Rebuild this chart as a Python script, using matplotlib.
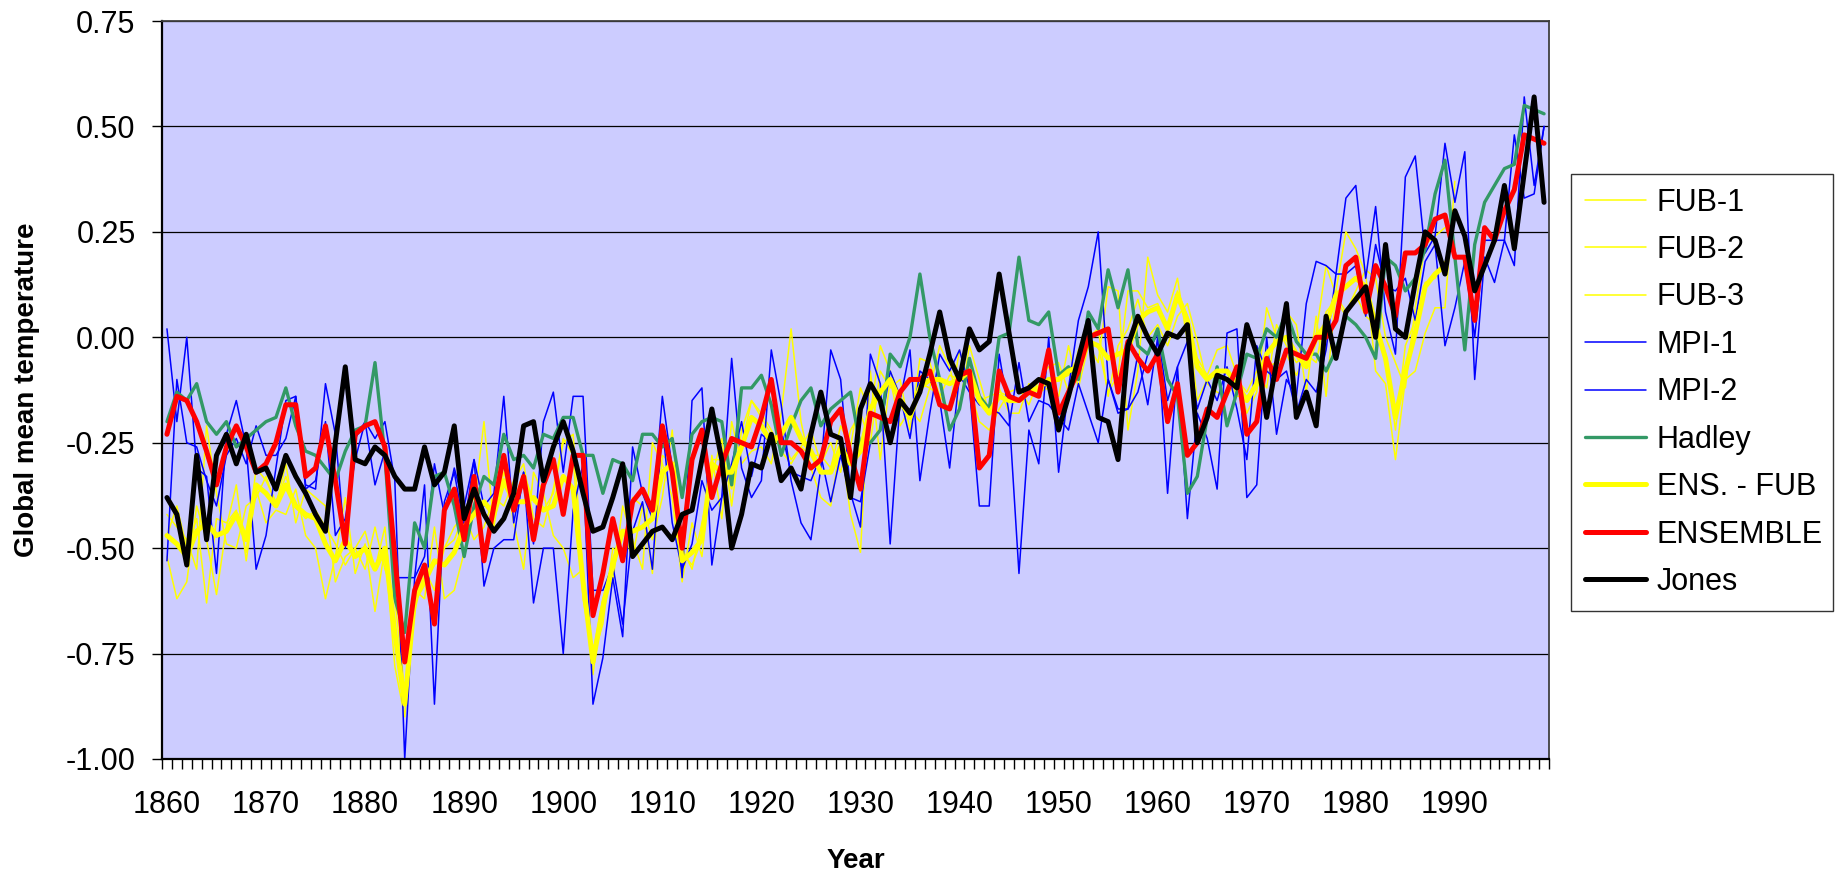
import numpy as np
import matplotlib
matplotlib.use("Agg")
import matplotlib.pyplot as plt
from matplotlib.ticker import FuncFormatter

# ---- data: global mean temperature anomalies, one value per year from 1860 ----
FIRST_YEAR = 1860

fub1 = [
    -0.52, -0.62, -0.58, -0.40, -0.48, -0.61, -0.45, -0.35, -0.53, -0.36,
    -0.44, -0.41, -0.42, -0.36, -0.47, -0.50, -0.62, -0.52, -0.38, -0.56,
    -0.49, -0.65, -0.50, -0.78, -0.90, -0.60, -0.62, -0.45, -0.62, -0.60,
    -0.51, -0.40, -0.20, -0.45, -0.30, -0.44, -0.55, -0.32, -0.37, -0.47,
    -0.50, -0.57, -0.55, -0.80, -0.62, -0.58, -0.40, -0.48, -0.55, -0.25,
    -0.30, -0.38, -0.58, -0.44, -0.52, -0.28, -0.43, -0.20, -0.30, -0.27,
    -0.26, -0.30, -0.18, 0.02, -0.20, -0.31, -0.38, -0.40, -0.25, -0.42,
    -0.51, -0.08, -0.29, -0.10, -0.21, -0.17, -0.20, -0.12, -0.02, -0.07,
    -0.17, -0.02, -0.10, -0.18, -0.12, -0.18, -0.18, -0.11, -0.13, -0.11,
    -0.14, -0.02, -0.12, -0.02, -0.06, 0.12, 0.11, -0.22, -0.08, 0.19,
    0.10, 0.06, 0.14, -0.01, -0.05, -0.09, -0.03, -0.02, -0.09, -0.18,
    -0.13, 0.07, 0.00, 0.06, 0.03, -0.13, 0.05, -0.14, 0.11, 0.25,
    0.21, 0.15, -0.08, -0.11, -0.29, -0.10, -0.08, 0.01, 0.07, 0.07,
    0.37,
]

fub2 = [
    -0.42, -0.45, -0.48, -0.55, -0.21, -0.37, -0.49, -0.50, -0.40, -0.38,
    -0.33, -0.40, -0.30, -0.44, -0.36, -0.38, -0.40, -0.58, -0.52, -0.50,
    -0.55, -0.45, -0.55, -0.62, -0.84, -0.65, -0.55, -0.60, -0.50, -0.45,
    -0.42, -0.48, -0.45, -0.38, -0.40, -0.34, -0.30, -0.43, -0.45, -0.36,
    -0.24, -0.28, -0.62, -0.76, -0.68, -0.50, -0.52, -0.38, -0.40, -0.48,
    -0.38, -0.22, -0.50, -0.55, -0.44, -0.33, -0.24, -0.40, -0.22, -0.15,
    -0.18, -0.22, -0.27, -0.30, -0.26, -0.22, -0.30, -0.25, -0.32, -0.22,
    -0.18, -0.25, -0.08, -0.12, -0.10, -0.22, -0.05, -0.06, -0.14, -0.17,
    -0.03, -0.12, -0.20, -0.22, -0.17, -0.13, -0.12, -0.16, -0.10, -0.07,
    -0.06, -0.13, -0.03, 0.00, 0.02, -0.14, -0.02, 0.02, 0.09, 0.00,
    0.03, -0.02, 0.05, 0.08, -0.01, -0.11, -0.13, -0.14, -0.10, -0.13,
    -0.08, -0.12, 0.03, -0.02, -0.06, -0.04, -0.06, 0.06, 0.09, 0.05,
    0.10, 0.05, 0.03, -0.04, -0.22, -0.02, 0.04, 0.13, 0.14, 0.18,
]

fub3 = [
    -0.47, -0.40, -0.50, -0.43, -0.63, -0.43, -0.44, -0.41, -0.51, -0.31,
    -0.34, -0.39, -0.33, -0.40, -0.43, -0.41, -0.45, -0.49, -0.54, -0.50,
    -0.46, -0.55, -0.45, -0.70, -0.87, -0.61, -0.57, -0.54, -0.50, -0.48,
    -0.42, -0.38, -0.52, -0.43, -0.32, -0.39, -0.32, -0.39, -0.41, -0.37,
    -0.25, -0.23, -0.57, -0.75, -0.62, -0.54, -0.46, -0.52, -0.40, -0.56,
    -0.28, -0.30, -0.51, -0.54, -0.48, -0.29, -0.29, -0.36, -0.26, -0.15,
    -0.19, -0.23, -0.24, -0.29, -0.26, -0.28, -0.28, -0.31, -0.21, -0.26,
    -0.12, -0.18, -0.02, -0.08, -0.14, -0.18, -0.11, -0.12, -0.14, -0.09,
    -0.10, -0.10, -0.15, -0.14, -0.13, -0.14, -0.15, -0.12, -0.13, -0.12,
    -0.10, -0.09, -0.06, -0.01, -0.02, -0.13, -0.09, 0.11, 0.11, 0.07,
    0.08, 0.02, 0.11, 0.05, -0.15, -0.10, -0.08, -0.08, -0.14, -0.14,
    -0.12, -0.07, -0.06, -0.04, -0.09, -0.04, 0.01, 0.17, 0.10, 0.06,
    0.11, 0.16, 0.14, 0.00, -0.06, -0.12, 0.07, 0.22, 0.24, 0.26,
]

mpi1 = [
    0.02, -0.20, 0.00, -0.31, -0.33, -0.56, -0.23, -0.15, -0.26, -0.55,
    -0.47, -0.31, -0.15, -0.14, -0.35, -0.36, -0.11, -0.23, -0.50, -0.24,
    -0.20, -0.24, -0.20, -0.34, -1.00, -0.57, -0.35, -0.87, -0.39, -0.32,
    -0.45, -0.29, -0.59, -0.50, -0.48, -0.48, -0.32, -0.63, -0.50, -0.50,
    -0.75, -0.41, -0.30, -0.87, -0.76, -0.57, -0.71, -0.26, -0.37, -0.43,
    -0.14, -0.31, -0.57, -0.15, -0.12, -0.54, -0.38, -0.05, -0.31, -0.38,
    -0.34, -0.03, -0.16, -0.34, -0.44, -0.48, -0.31, -0.03, -0.10, -0.37,
    -0.45, -0.04, -0.11, -0.49, -0.15, -0.03, -0.34, -0.18, -0.04, -0.08,
    -0.03, -0.12, -0.40, -0.40, -0.04, -0.18, -0.56, -0.22, -0.30, 0.00,
    -0.32, -0.12, 0.04, 0.12, 0.25, -0.10, -0.17, -0.17, -0.04, -0.16,
    0.00, -0.37, -0.07, -0.43, -0.18, -0.24, -0.36, 0.01, 0.02, -0.38,
    -0.35, 0.00, -0.23, -0.10, -0.14, 0.08, 0.18, 0.17, 0.15, 0.33,
    0.36, 0.14, 0.31, 0.06, -0.04, 0.38, 0.43, 0.20, 0.24, 0.46,
    0.32, 0.44, -0.10, 0.19, 0.13, 0.23, 0.17, 0.57, 0.36, 0.50,
]

mpi2 = [
    -0.53, -0.10, -0.25, -0.26, -0.34, -0.40, -0.28, -0.24, -0.30, -0.21,
    -0.28, -0.28, -0.24, -0.14, -0.36, -0.34, -0.20, -0.47, -0.43, -0.29,
    -0.20, -0.35, -0.27, -0.57, -0.57, -0.57, -0.52, -0.30, -0.42, -0.31,
    -0.40, -0.29, -0.40, -0.37, -0.14, -0.44, -0.32, -0.49, -0.20, -0.13,
    -0.32, -0.14, -0.14, -0.60, -0.60, -0.54, -0.68, -0.46, -0.39, -0.55,
    -0.21, -0.44, -0.55, -0.49, -0.34, -0.41, -0.38, -0.30, -0.20, -0.33,
    -0.23, -0.25, -0.22, -0.32, -0.33, -0.34, -0.28, -0.39, -0.28, -0.38,
    -0.39, -0.25, -0.22, -0.08, -0.14, -0.24, -0.08, -0.10, -0.15, -0.31,
    -0.09, -0.13, -0.16, -0.17, -0.18, -0.21, -0.06, -0.20, -0.15, -0.16,
    -0.19, -0.22, -0.11, -0.18, -0.25, -0.10, -0.18, -0.17, -0.13, -0.04,
    0.01, -0.15, -0.07, -0.01, -0.17, -0.10, -0.15, -0.07, -0.17, -0.29,
    -0.02, -0.08, -0.10, -0.08, -0.18, -0.10, -0.13, -0.03, 0.15, 0.15,
    0.17, 0.05, 0.22, 0.12, 0.11, 0.14, 0.04, 0.18, 0.22, -0.02,
    0.07, 0.18, 0.00, 0.23, 0.23, 0.23, 0.48, 0.33, 0.34, 0.50,
]

hadley = [
    -0.20, -0.13, -0.15, -0.11, -0.20, -0.23, -0.20, -0.26, -0.24, -0.22,
    -0.20, -0.19, -0.12, -0.21, -0.27, -0.28, -0.31, -0.34, -0.27, -0.22,
    -0.21, -0.06, -0.28, -0.62, -0.70, -0.44, -0.50, -0.33, -0.32, -0.40,
    -0.52, -0.40, -0.33, -0.35, -0.23, -0.29, -0.28, -0.31, -0.23, -0.24,
    -0.19, -0.19, -0.28, -0.28, -0.37, -0.29, -0.30, -0.34, -0.23, -0.23,
    -0.26, -0.24, -0.38, -0.23, -0.20, -0.19, -0.20, -0.35, -0.12, -0.12,
    -0.09, -0.16, -0.28, -0.21, -0.15, -0.12, -0.21, -0.17, -0.15, -0.13,
    -0.26, -0.25, -0.22, -0.04, -0.07, 0.00, 0.15, 0.00, -0.10, -0.22,
    -0.17, -0.05, -0.14, -0.17, 0.00, 0.01, 0.19, 0.04, 0.03, 0.06,
    -0.09, -0.07, -0.10, 0.06, 0.02, 0.16, 0.07, 0.16, -0.02, -0.04,
    0.02, -0.10, -0.14, -0.37, -0.33, -0.19, -0.07, -0.21, -0.13, -0.04,
    -0.05, 0.02, 0.00, 0.06, -0.01, -0.04, -0.04, -0.08, -0.03, 0.05,
    0.03, 0.00, -0.05, 0.19, 0.17, 0.11, 0.14, 0.21, 0.34, 0.42,
    0.19, -0.03, 0.22, 0.32, 0.36, 0.40, 0.41, 0.55, 0.54, 0.53,
]

ens_fub = [
    -0.47, -0.49, -0.52, -0.46, -0.44, -0.47, -0.46, -0.42, -0.48, -0.35,
    -0.37, -0.40, -0.35, -0.40, -0.42, -0.43, -0.49, -0.53, -0.48, -0.52,
    -0.50, -0.55, -0.50, -0.70, -0.87, -0.62, -0.58, -0.53, -0.54, -0.51,
    -0.45, -0.42, -0.39, -0.42, -0.34, -0.39, -0.39, -0.38, -0.41, -0.40,
    -0.33, -0.36, -0.58, -0.77, -0.64, -0.54, -0.46, -0.46, -0.45, -0.43,
    -0.32, -0.30, -0.53, -0.51, -0.48, -0.30, -0.32, -0.32, -0.26, -0.19,
    -0.21, -0.25, -0.23, -0.19, -0.24, -0.27, -0.32, -0.32, -0.26, -0.30,
    -0.27, -0.17, -0.13, -0.10, -0.15, -0.19, -0.12, -0.10, -0.10, -0.11,
    -0.10, -0.08, -0.15, -0.18, -0.14, -0.15, -0.15, -0.13, -0.12, -0.10,
    -0.10, -0.08, -0.07, -0.01, -0.02, -0.05, -0.04, -0.03, 0.04, 0.06,
    0.07, 0.02, 0.10, 0.04, -0.07, -0.10, -0.08, -0.08, -0.11, -0.15,
    -0.11, -0.04, -0.01, 0.00, -0.04, -0.07, 0.00, 0.03, 0.10, 0.12,
    0.14, 0.12, 0.03, -0.05, -0.19, -0.08, 0.01, 0.12, 0.15, 0.17,
]

ensemble = [
    -0.23, -0.14, -0.15, -0.20, -0.27, -0.35, -0.26, -0.21, -0.26, -0.32,
    -0.30, -0.25, -0.16, -0.16, -0.33, -0.31, -0.21, -0.34, -0.49, -0.23,
    -0.21, -0.20, -0.26, -0.52, -0.77, -0.60, -0.54, -0.68, -0.41, -0.36,
    -0.48, -0.33, -0.53, -0.40, -0.28, -0.41, -0.33, -0.48, -0.35, -0.29,
    -0.42, -0.28, -0.28, -0.66, -0.56, -0.43, -0.53, -0.39, -0.36, -0.41,
    -0.21, -0.32, -0.50, -0.29, -0.22, -0.38, -0.30, -0.24, -0.25, -0.26,
    -0.19, -0.10, -0.25, -0.25, -0.27, -0.31, -0.29, -0.20, -0.17, -0.28,
    -0.36, -0.18, -0.19, -0.20, -0.13, -0.10, -0.10, -0.08, -0.16, -0.17,
    -0.09, -0.08, -0.31, -0.28, -0.08, -0.14, -0.15, -0.13, -0.14, -0.03,
    -0.18, -0.13, -0.08, 0.00, 0.01, 0.02, -0.13, -0.01, -0.05, -0.08,
    -0.04, -0.20, -0.11, -0.28, -0.25, -0.17, -0.19, -0.13, -0.07, -0.23,
    -0.20, -0.05, -0.10, -0.03, -0.04, -0.05, 0.00, 0.00, 0.04, 0.17,
    0.19, 0.06, 0.17, 0.12, 0.05, 0.20, 0.20, 0.22, 0.28, 0.29,
    0.19, 0.19, 0.04, 0.26, 0.23, 0.30, 0.35, 0.48, 0.47, 0.46,
]

jones = [
    -0.38, -0.42, -0.54, -0.28, -0.48, -0.28, -0.23, -0.30, -0.23, -0.32,
    -0.31, -0.36, -0.28, -0.33, -0.37, -0.42, -0.46, -0.25, -0.07, -0.29,
    -0.30, -0.26, -0.28, -0.33, -0.36, -0.36, -0.26, -0.35, -0.32, -0.21,
    -0.43, -0.36, -0.42, -0.46, -0.43, -0.37, -0.21, -0.20, -0.34, -0.26,
    -0.20, -0.27, -0.37, -0.46, -0.45, -0.38, -0.30, -0.52, -0.49, -0.46,
    -0.45, -0.48, -0.42, -0.41, -0.29, -0.17, -0.29, -0.50, -0.42, -0.30,
    -0.31, -0.23, -0.34, -0.31, -0.36, -0.23, -0.13, -0.23, -0.24, -0.38,
    -0.17, -0.11, -0.15, -0.25, -0.15, -0.18, -0.13, -0.04, 0.06, -0.05,
    -0.10, 0.02, -0.03, -0.01, 0.15, 0.01, -0.13, -0.12, -0.10, -0.11,
    -0.22, -0.14, -0.05, 0.04, -0.19, -0.20, -0.29, -0.02, 0.05, 0.00,
    -0.04, 0.01, 0.00, 0.03, -0.25, -0.19, -0.09, -0.10, -0.12, 0.03,
    -0.04, -0.19, -0.06, 0.08, -0.19, -0.13, -0.21, 0.05, -0.05, 0.06,
    0.09, 0.12, 0.00, 0.22, 0.02, 0.00, 0.13, 0.25, 0.23, 0.15,
    0.30, 0.24, 0.11, 0.17, 0.23, 0.36, 0.21, 0.39, 0.57, 0.32,
]

year_labels = list(range(1860, 2000, 10))
y_ticks = [0.75, 0.50, 0.25, 0.00, -0.25, -0.50, -0.75, -1.00]

# (label, values, colour, line width in pt) in drawing order, Jones on top
series = [
    ("FUB-1", fub1, "#FFFF00", 1.1),
    ("FUB-2", fub2, "#FFFF00", 1.1),
    ("FUB-3", fub3, "#FFFF00", 1.1),
    ("MPI-1", mpi1, "#0000FF", 1.1),
    ("MPI-2", mpi2, "#0000FF", 1.1),
    ("Hadley", hadley, "#339966", 2.4),
    ("ENS. - FUB", ens_fub, "#FFFF00", 3.6),
    ("ENSEMBLE", ensemble, "#FF0000", 3.6),
    ("Jones", jones, "#000000", 3.6),
]

W, H = 1836, 873
plt.rcParams["font.family"] = ["Liberation Sans", "DejaVu Sans"]

fig = plt.figure(figsize=(W / 100, H / 100), dpi=100)
ax = fig.add_axes([162 / W, 1 - 759 / H, 1387 / W, 738 / H])
ax.set_facecolor("#CCCCFF")

handles = []
for label, values, color, lw in series:
    years = np.arange(FIRST_YEAR, FIRST_YEAR + len(values))
    (line,) = ax.plot(years, values, color=color, lw=lw, label=label,
                      solid_joinstyle="round", solid_capstyle="round")
    handles.append(line)

ax.set_xlim(1859.5, 1999.5)
ax.set_ylim(-1.0, 0.75)

# category style axis: a tick between every year, labels every decade
ax.set_xticks(year_labels)
ax.set_xticklabels([str(y) for y in year_labels])
ax.set_xticks(np.arange(1859.5, 2000, 1), minor=True)
ax.tick_params(axis="x", which="major", length=0, pad=22, labelsize=22)
ax.tick_params(axis="x", which="minor", length=7, width=1, color="black", direction="out")

ax.set_yticks(y_ticks)
ax.yaxis.set_major_formatter(FuncFormatter(lambda v, p: f"{v:.2f}"))
ax.tick_params(axis="y", length=7, width=1, color="black", direction="out", pad=12, labelsize=22)

ax.grid(axis="y", color="black", lw=0.9)
ax.set_axisbelow(True)
for side in ("left", "bottom"):
    ax.spines[side].set_linewidth(1.6)
    ax.spines[side].set_color("black")
for side in ("top", "right"):
    ax.spines[side].set_linewidth(1.3)
    ax.spines[side].set_color("#404040")

fig.text(27 / W, 1 - 390 / H, "Global mean temperature", rotation=90,
         ha="center", va="center", fontsize=20, fontweight="bold")
fig.text(855.5 / W, 1 - 868 / H, "Year", ha="center", va="baseline",
         fontsize=20, fontweight="bold")

leg = fig.legend(handles=handles, loc="upper left",
                 bbox_to_anchor=(1571 / W, 1 - 174 / H, 262 / W, 0.0001),
                 mode="expand", borderaxespad=0, fontsize=22, frameon=True,
                 fancybox=False, shadow=False, handlelength=2.0,
                 handletextpad=0.35, labelspacing=0.57, borderpad=0.45)
leg.get_frame().set_edgecolor("black")
leg.get_frame().set_linewidth(1.0)

fig.savefig("out.png", dpi=100, facecolor="white")
